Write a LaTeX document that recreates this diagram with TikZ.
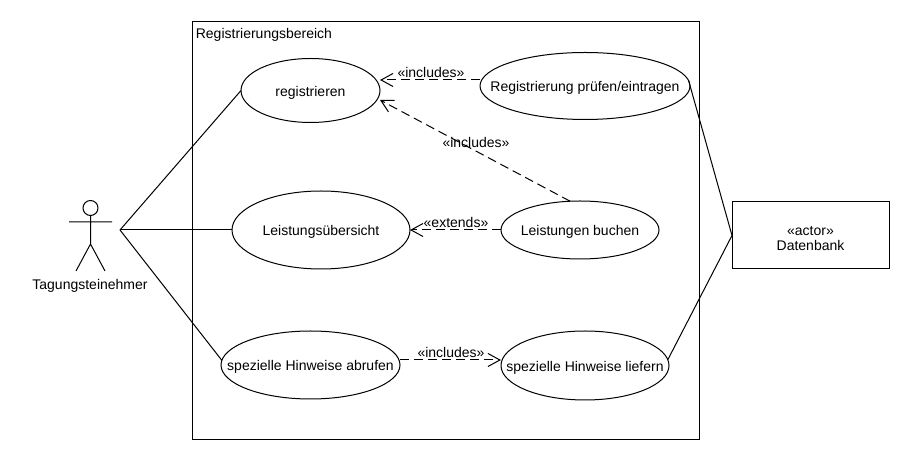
\documentclass[tikz,border=0pt]{standalone}
\usepackage{fontspec}
\setmainfont{Liberation Sans}
\usetikzlibrary{arrows.meta,shapes.geometric}
\newcommand{\lbl}[1]{\makebox[0pt]{\raisebox{-6pt}[0pt][0pt]{#1}}}
\begin{document}
\begin{tikzpicture}[x=1pt,y=1pt,line width=1pt,
    main node/.style={ellipse, draw, inner sep=0pt, outer sep=0pt},
    dep/.style={dashed, dash pattern=on 9pt off 5pt, -{Straight Barb[length=12pt,width=13pt,line width=1pt]}}]
            \tikzstyle{every node}=[font=\fontsize{14}{16}\selectfont]
            \useasboundingbox (0,0) rectangle (910,460);

              \node[draw, minimum width=507pt, minimum height=418pt, outer sep=0pt] (area) at (445.5,229) {};
              \node[anchor=west] (title) at (192,425.5) {Registrierungsbereich};

              \node[main node, minimum width=139pt, minimum height=64pt] (reg) at (310.5,369.5) {\lbl{registrieren}};
              \node[main node, minimum width=210pt, minimum height=67pt] (check) at (585,374) {\lbl{Registrierung prüfen/eintragen}};
              \node[main node, minimum width=178pt, minimum height=78pt] (over) at (321,230) {\lbl{Leistungsübersicht}};
              \node[main node, minimum width=158pt, minimum height=58pt] (book) at (580,230) {\lbl{Leistungen buchen}};
              \node[main node, minimum width=179pt, minimum height=68pt] (fetch) at (310.5,95) {\lbl{spezielle Hinweise abrufen}};
              \node[main node, minimum width=168pt, minimum height=69pt] (give) at (585,94.5) {\lbl{spezielle Hinweise liefern}};
              \node[draw, minimum width=157pt, minimum height=67pt, outer sep=0pt, align=center] (db) at (810.5,224.5) {\rule{0pt}{15pt}«actor»\\[-1pt]Datenbank};

              % actor
              \node[circle, draw, minimum size=15pt, inner sep=0pt, outer sep=0pt] (head) at (90.5,252) {};
              \coordinate (hip) at (90.5,216);
              \coordinate (armL) at (69,238);
              \coordinate (armR) at (112,238);
              \coordinate (footL) at (76,189);
              \coordinate (footR) at (105,189);
              \coordinate (hand) at (120,230);
              \draw (head.south) -- (hip) (armL) -- (armR) (footL) -- (hip) -- (footR);
              \node (person) at (90,174.5) {Tagungsteinehmer};

              % ends of the dashed lines
              \coordinate (regA) at (380,380);
              \coordinate (regB) at (380,360);
              \coordinate (checkA) at (480,380);
              \coordinate (fetchA) at (400,100);
              \coordinate (giveA) at (501,100);

              \path[draw]
                (hand) edge (reg.west)
                       edge (over.west)
                       edge (fetch.177)
                (check.3) edge (db.west)
                (give.4) edge (db.west);

              \draw[dep] (checkA) -- (regA);
              \draw[dep] (book.109) -- (regB);
              \draw[dep] (book.west) -- (over.east);
              \draw[dep] (fetchA) -- (giveA);

              \node (l1) at (431,387) {«includes»};
              \node (l2) at (476,317) {«includes»};
              \node (l3) at (456,237.5) {«extends»};
              \node (l4) at (451,107.5) {«includes»};
\end{tikzpicture}
\end{document}
